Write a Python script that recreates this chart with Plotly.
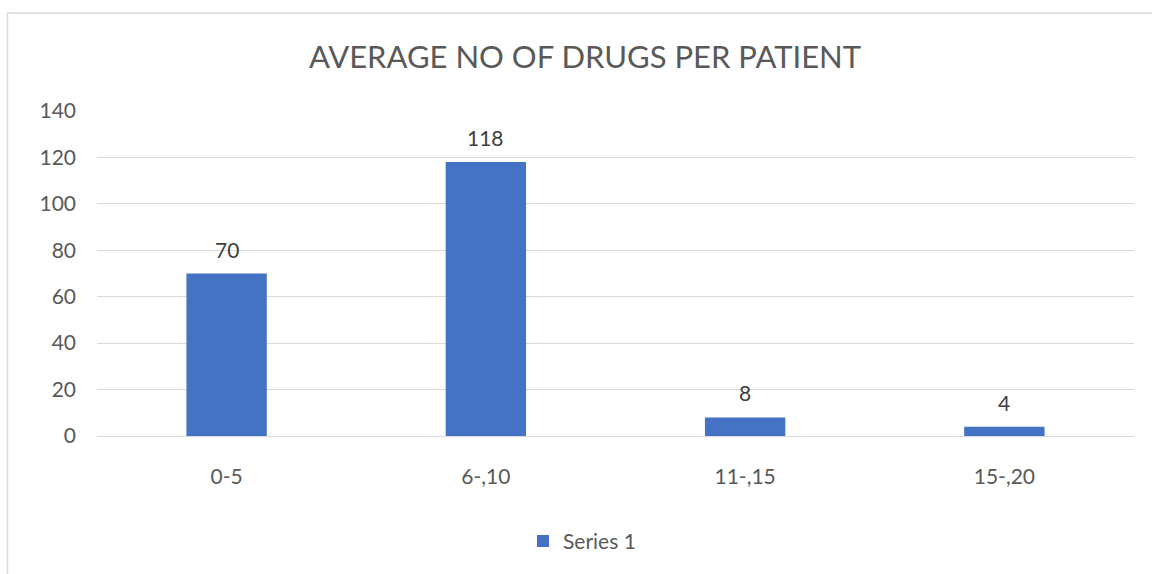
import plotly.graph_objects as go

categories = ["0-5", "6-,10", "11-,15", "15-,20"]
values = [70, 118, 8, 4]
series_name = "Series 1"
title_text = "AVERAGE NO OF DRUGS PER PATIENT"
y_ticks = [0, 20, 40, 60, 80, 100, 120, 140]

BAR = "#4472C4"
TEXT = "#595959"
GRID = "#D9D9D9"
FONT = "Lato, 'Open Sans', sans-serif"
FS = 21

W, H = 1152, 574
ML, MR, MT, MB = 97, 18, 111, 136
pw, ph = W - ML - MR, H - MT - MB

def px_to_paper_x(px):
    return (px - ML) / pw

def px_to_paper_y(py):
    return (H - MB - py) / ph

fig = go.Figure()
fig.add_trace(go.Bar(
    x=categories, y=values, name=series_name,
    marker=dict(color=BAR, line=dict(width=0)),
    showlegend=True,
))

# value labels above each bar
for c, v in zip(categories, values):
    fig.add_annotation(x=c, y=v, text=str(v), showarrow=False,
                       yanchor="bottom", yshift=10,
                       font=dict(family=FONT, size=FS, color="#404040"))

# chart frame (top and left edges)
bx, by = px_to_paper_x(7.5), px_to_paper_y(12.5)
fig.add_shape(type="line", xref="paper", yref="paper", x0=bx, x1=1.2, y0=by, y1=by,
              line=dict(color=GRID, width=1.5))
fig.add_shape(type="line", xref="paper", yref="paper", x0=bx, x1=bx, y0=by, y1=-0.6,
              line=dict(color=GRID, width=1.5))

fig.update_layout(
    width=W, height=H,
    margin=dict(l=ML, r=MR, t=MT, b=MB),
    paper_bgcolor="white", plot_bgcolor="white",
    font=dict(family=FONT, color=TEXT, size=FS),
    title=dict(text=title_text, x=px_to_paper_x(585), xref="paper", xanchor="center",
               y=1 - 57 / H, yanchor="middle",
               font=dict(family=FONT, size=31, color=TEXT)),
    bargap=0.69,
    showlegend=True,
    legend=dict(orientation="h", x=px_to_paper_x(582), xanchor="center",
                y=px_to_paper_y(544), yanchor="middle",
                font=dict(family=FONT, size=FS, color=TEXT)),
    xaxis=dict(showgrid=False, showline=True, linecolor=GRID, linewidth=1,
               ticks="", ticklabelstandoff=22,
               tickfont=dict(family=FONT, size=FS, color=TEXT)),
    yaxis=dict(range=[0, 140], tickvals=y_ticks, showgrid=True, gridcolor=GRID,
               gridwidth=1, zeroline=False, showline=False, ticks="",
               ticklabelstandoff=20,
               tickfont=dict(family=FONT, size=FS, color=TEXT)),
)

fig.write_html("out.html")
